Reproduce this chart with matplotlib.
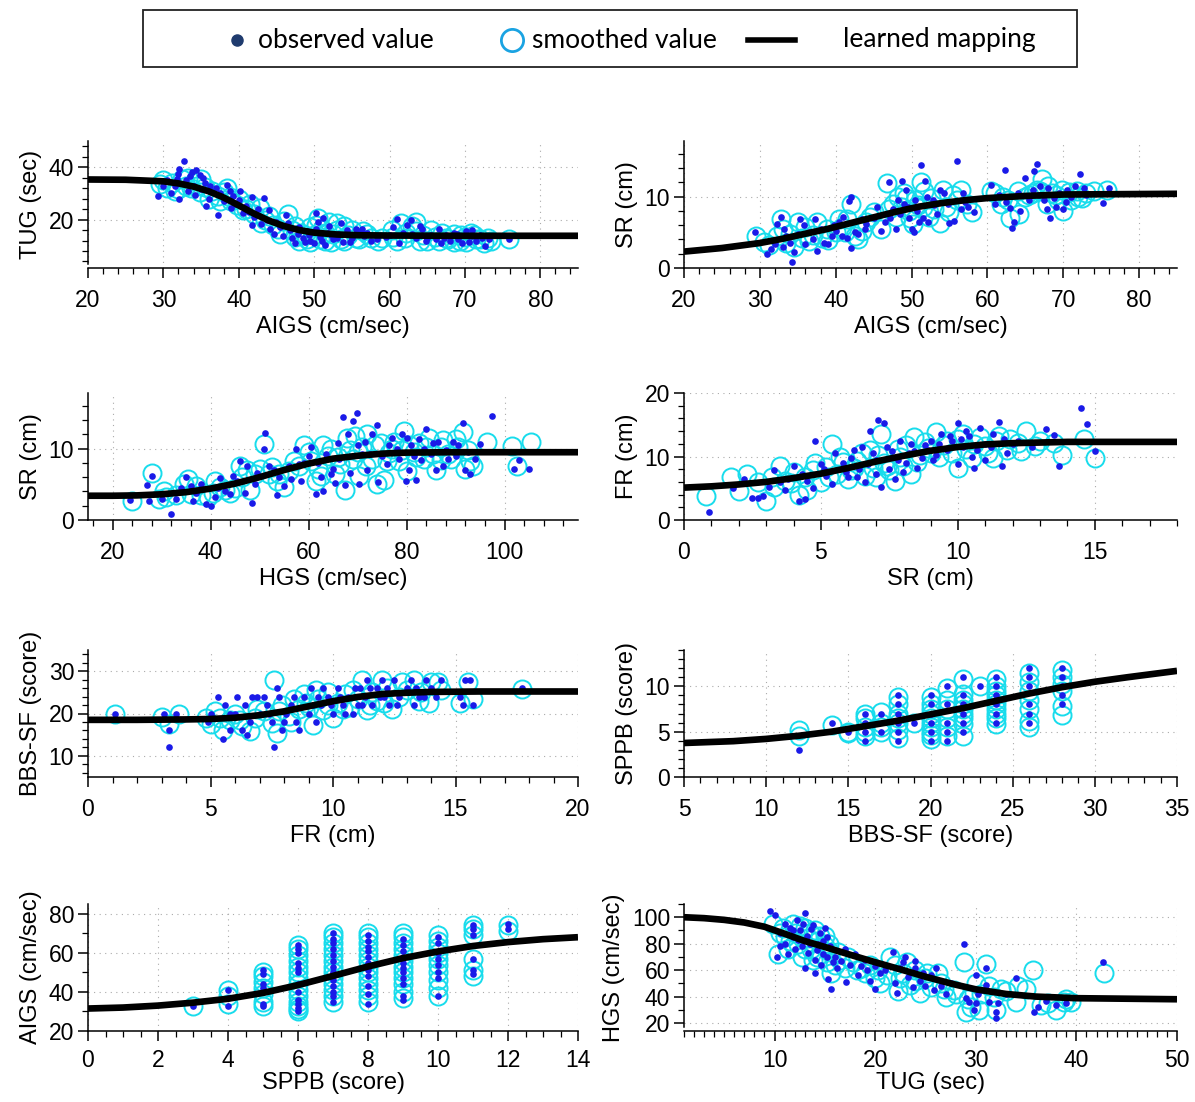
import numpy as np
import matplotlib.pyplot as plt
from matplotlib.lines import Line2D
from matplotlib.patches import Rectangle
from matplotlib.ticker import MultipleLocator

plt.rcParams['font.family'] = ['Liberation Sans', 'DejaVu Sans']

# ---- panel 1: TUG vs AIGS ----
p1_obs = [(29.3, 29), (30.5, 35), (31, 30), (31.5, 33), (32, 37.5), (32.1, 27.8), (32.1, 39.4), (32.7, 42.5),
          (33, 35), (33.2, 31), (33.5, 36.5), (34, 33), (34.3, 39), (34.2, 29.4), (34.8, 37), (35, 31.5),
          (35.5, 34), (35.7, 25), (36, 28), (36.5, 30.5), (37.3, 21.9), (37.5, 30), (38, 27), (38.4, 33.1),
          (38.8, 31), (39, 24.4), (39.5, 26), (40.2, 30.9), (40.5, 22.5), (41, 25), (41.7, 28.8), (41.7, 18.1),
          (42, 21), (42.5, 24), (43.3, 28.1), (43, 18.4), (43.8, 20), (44.2, 16.5), (44.7, 14.4), (45.5, 17),
          (46.2, 21.9), (45.9, 13.8), (46.8, 16), (47.4, 11.2), (47.8, 14.5), (48.5, 13), (49, 15.5), (49.5, 12),
          (50.2, 22.5), (50.2, 16.3), (50.5, 19), (50.8, 13.5), (51.2, 20.5), (51.5, 10.3), (51.8, 15), (52, 17.5),
          (52.5, 12.5), (53.2, 14.5), (53.6, 18.7), (53.8, 11.5), (54.3, 16), (55, 13), (55.8, 14.8), (56.4, 16.3),
          (56.6, 13.8), (57.5, 12), (58.4, 12.5), (59.5, 13.5), (60.5, 17), (61, 20.3), (61.3, 11.2), (61.8, 15),
          (62.3, 18), (62.8, 20), (63.5, 13), (64, 17.5), (64.3, 16.3), (64.8, 11.9), (65.5, 14), (66.2, 12.5),
          (66.6, 16.3), (66.8, 11.2), (67.5, 14), (68, 12), (68.5, 15), (69.1, 12.5), (69.6, 11), (70.2, 15.6),
          (70.9, 13.7), (71.5, 12), (72, 14), (72.7, 10), (73.2, 12.5), (75.8, 12.5),
          (30, 33), (31.8, 35.5), (33.8, 38), (35.2, 36), (36.2, 33), (37, 32), (39.2, 29), (40, 27.5), (41.3, 23),
          (44, 23.5), (45, 19), (46.5, 18.5), (47, 13), (48, 17), (48.8, 11.5), (49.3, 14), (50, 11), (51, 12),
          (52.2, 14), (53, 13), (54.8, 11.5), (55.5, 16.5), (57, 15), (60, 14), (63, 14.5), (65, 13), (67.2, 13),
          (69, 14.5), (70.5, 11.5), (71, 16), (72.3, 13)]
p1_sm = [(29.5, 33.5), (30.5, 32), (31.2, 34), (32, 31.5), (32.5, 35.5), (33, 33), (33.7, 32), (34.2, 34.8),
         (34.8, 30.5), (35.5, 32.5), (36, 28), (36.5, 31), (37.2, 29), (38, 30.5), (38.5, 32), (39, 27),
         (39.8, 25.5), (40.5, 23.5), (41.5, 26), (42, 22), (42.8, 24.5), (43.5, 20), (44, 21.5), (45.2, 16.5),
         (45.5, 14.5), (46.5, 22), (47, 16), (47.5, 13.5), (48.3, 15), (49, 12.5), (49.5, 17), (50, 14),
         (50.5, 20.5), (51, 16.5), (51.5, 12), (52, 19), (52.5, 14.5), (53, 16), (53.5, 12.5), (54, 17.5),
         (54.5, 14), (55.5, 13), (56.5, 15.5), (57.5, 13), (58.5, 12), (60.3, 16), (61, 12), (61.5, 18.5),
         (62.2, 15), (63, 17.5), (63.5, 19), (64.5, 14), (65, 12), (66, 13.5), (67, 15), (67.8, 12.5),
         (68.5, 14.5), (69.3, 12), (70, 13.5), (70.8, 15), (71.5, 12.5), (72.5, 11), (73, 13), (75.8, 12.5),
         (30, 35), (31.5, 31), (33.2, 36), (34.5, 33), (35, 35.5), (37.5, 27), (38.8, 28.5), (40, 28), (41, 24),
         (43, 18.5), (44.5, 18), (46, 19.5), (47.5, 17.5), (48, 12), (48.8, 14), (49.5, 11.5), (50.2, 18),
         (50.8, 12.5), (51.5, 15), (52.3, 11.5), (53, 18.5), (54, 12), (55, 16), (56, 12.5), (57, 14.5), (59, 13),
         (60.5, 13.5), (62, 13), (63.5, 15.5), (64, 12), (65.5, 16), (66.5, 12), (67.5, 13), (68.5, 11.5),
         (69.5, 14), (70.2, 11.5), (71.2, 14), (72, 12.5), (73.5, 12)]
p1_fit_x = [20, 25, 30, 32, 34, 36, 38, 40, 42, 44, 46, 48, 50, 53, 56, 60, 70, 85]
p1_fit_y = [35.3, 35.2, 34.6, 33.8, 32.6, 30.8, 28.4, 25.4, 22.3, 19.6, 17.5, 16.0, 15.0, 14.3, 14.0, 13.9, 13.8, 13.8]

# ---- panel 2: SR vs AIGS ----
p2_obs = [(29.3, 5), (31, 2), (31.5, 2.6), (32, 3.3), (32.3, 6.2), (32.8, 7.2), (33, 2.9), (33.5, 4.5), (34, 3.5),
          (34.2, 0.8), (34.5, 2.2), (35, 4.8), (35.3, 6.9), (35.8, 6), (36, 3.4), (37, 4), (37.3, 6.8), (37.5, 2.4),
          (38, 5.5), (38.5, 3.5), (39, 3.3), (39.5, 4.5), (40, 5.2), (40.5, 6.5), (41, 7.2), (41.5, 4.2), (41.8, 9.4),
          (42, 10), (42, 2.8), (42.5, 5), (43, 4.7), (43.5, 6.8), (44, 6.2), (45, 7), (46, 5.2), (46.5, 6.5),
          (47, 12), (47.5, 8.3), (48, 5.4), (48.2, 9.5), (48.8, 12.2), (49, 9), (49.3, 11), (49.7, 7), (50, 5.5),
          (50.3, 5), (50.7, 8), (51.2, 14.5), (51.5, 7), (51.8, 12.2), (52.2, 6.5), (52.8, 9.5), (53.3, 7.5),
          (53.8, 11), (54.3, 10.5), (55, 6.3), (55.6, 6.6), (56, 15), (56.5, 8.2), (56.8, 10.5), (57.5, 8.5),
          (58.3, 7.8), (60.5, 11.7), (61.5, 10.2), (62.3, 13.8), (62.5, 9.3), (63, 8.4), (63.2, 5.6), (63.5, 6.5),
          (64.3, 8), (65, 12.6), (66, 11), (66.5, 14.6), (66.2, 13.6), (67, 11.5), (67.5, 9.5), (67.8, 8.2),
          (68.2, 7), (68.8, 9.8), (69.5, 10.5), (70, 8.2), (70.5, 11), (71, 10), (72.2, 13.2), (72.8, 11.2),
          (73, 10.2), (75.2, 9.1), (76, 11.2),
          (33.2, 5.5), (36.5, 5), (39.8, 6), (40.8, 4.5), (43.8, 5.5), (45.5, 8.5), (47.2, 7), (48.5, 7.5),
          (49.5, 8.5), (50.5, 9.5), (51, 6.5), (52, 10), (53, 8.8), (54.8, 9), (57, 9.2), (61, 9), (64, 10.5),
          (65.5, 9.5), (66.8, 10.2), (68, 11.2), (69, 8.5), (70.3, 9.3), (71.5, 11.5)]
p2_sm = [(29.5, 4.5), (31.2, 3.2), (32.3, 4.5), (32.8, 6.8), (33.5, 3.5), (34.5, 3), (35, 6.5), (35.5, 4.2),
         (36.5, 3.8), (37.5, 6.5), (38.2, 4.2), (39, 3.9), (40, 5), (40.8, 5.8), (41.5, 6.8), (42, 9), (42.5, 4.5),
         (43, 4), (44, 6.5), (45, 7.8), (46, 5.5), (46.8, 11.9), (47.5, 9), (48.2, 10), (48.8, 8.5), (49.3, 9.8),
         (49.8, 7), (50.2, 6.2), (50.8, 8.8), (51.2, 12), (51.7, 10.8), (52.3, 7.2), (53, 8.2), (53.8, 6.3),
         (54.2, 11), (55, 7.8), (56, 9.5), (56.5, 11), (58, 7.8), (61, 10.5), (62, 10), (62.7, 9.5), (63, 7),
         (64.2, 7.6), (65.5, 10.2), (66.5, 11), (67.2, 12.5), (67.8, 9), (68.5, 10.5), (69.3, 9.6), (70, 8),
         (70.8, 10.6), (72, 10), (73, 10.5), (75.8, 11),
         (30.5, 3.6), (33, 5.5), (34, 4.8), (36, 5.8), (37, 4.6), (38.8, 5.4), (40.5, 6.8), (41.2, 5), (43.5, 5.2),
         (44.5, 7.2), (47, 8.2), (48, 7.2), (49, 10.5), (49.6, 8), (50.5, 9.5), (51.5, 8.5), (52.5, 9.8),
         (54.5, 8.5), (55.5, 10.3), (57.3, 9), (60.5, 10.8), (61.8, 9), (64, 10.8), (65, 10), (66, 10.5),
         (67, 10.8), (68, 11.5), (69, 10.2), (69.8, 11), (71, 9.5), (71.8, 10.8), (72.5, 9.8), (74, 10.8)]
p2_fit_x = [20, 25, 30, 33, 36, 39, 42, 45, 48, 51, 54, 57, 60, 65, 70, 85]
p2_fit_y = [2.3, 2.8, 3.5, 4.1, 4.8, 5.5, 6.3, 7.1, 7.9, 8.6, 9.1, 9.5, 9.8, 10.1, 10.3, 10.4]

# ---- panel 3: SR vs HGS ----
p3_obs = [(23.5, 2.8), (27, 4.9), (27.5, 2.6), (28, 6.2), (30, 3), (32, 0.9), (33, 3), (34, 4.5), (35, 6),
          (36.5, 2.6), (37, 3.8), (38, 5), (39, 2.3), (40, 2), (41, 3.2), (42, 5.9), (43, 4), (44, 3.6),
          (45.5, 5.5), (46, 8.2), (47, 3.8), (47.5, 7.5), (48.5, 2.4), (49.5, 6.6), (51, 10), (51.2, 12.2),
          (52, 7.5), (53.5, 3.5), (54, 6), (55, 4.8), (56, 7.5), (57.5, 9.9), (58.5, 5.5), (59, 8), (60.5, 10.2),
          (61.5, 3.6), (62.5, 6), (63, 4.1), (63.5, 9.2), (65, 7.2), (65.5, 5.2), (66.3, 8.5), (67, 14.5),
          (67.5, 4.9), (68, 12), (68.5, 6.6), (69, 13.9), (69.8, 15), (70.3, 5.1), (71, 9.2), (71.5, 11), (72, 7),
          (73, 12), (74, 13.3), (74.2, 5.3), (75, 9), (76, 7.8), (77, 11.5), (78, 10), (79, 12), (79.8, 5.4),
          (80.5, 7), (81, 10.5), (82, 5.6), (82.5, 11.3), (83, 8.4), (84, 12.7), (85, 9.3), (86, 7), (86.5, 11),
          (87.5, 7.5), (88.5, 8.6), (89.5, 11), (90.5, 10.5), (91.5, 13.6), (92, 7), (93, 6.5), (94, 8.5),
          (95, 10.7), (97.5, 14.6), (102, 7.2), (103, 8.4), (105, 7.1),
          (36, 4.8), (41.5, 4.5), (44.5, 6.2), (49, 5), (53, 7), (56.5, 5.8), (58, 7.8), (60, 9), (62, 8),
          (64.5, 6.5), (66, 10.8), (70, 10.5), (72.5, 9.2), (76.5, 10.5), (78.5, 8.6), (80, 11.5), (81.5, 9),
          (83.5, 10), (85.5, 10.8), (88, 9.8), (90, 9), (92.5, 9.5)]
p3_sm = [(24, 2.7), (28, 6.6), (29.5, 3), (31, 3.2), (33, 3.5), (34.5, 5), (35.5, 5.8), (37, 4.8), (38, 3.5),
         (39.5, 3.2), (40.5, 3.8), (42, 4.6), (44, 3.8), (45, 4.5), (46, 7.5), (47.5, 7), (48, 4.2), (50, 7.2),
         (51, 10.6), (52.5, 7.4), (54, 6.5), (55, 4.6), (56, 6.8), (57, 8.2), (59, 10.5), (60, 9.5), (61.5, 5.5),
         (62.5, 6.2), (63, 10.5), (64, 9), (65.5, 6.4), (66.5, 7.8), (67.5, 4.2), (67.8, 11.5), (68.5, 9.8),
         (69.5, 11.8), (70.3, 6.2), (71, 10.2), (72, 12), (73, 8.6), (74, 5), (74.8, 10.8), (75.5, 5.6),
         (76.5, 9.4), (77.5, 11), (78.5, 8.2), (79.5, 12.5), (80, 6.8), (81.5, 9.6), (82.5, 10.8), (83.5, 8.5),
         (84.5, 11.5), (86, 7), (87, 8.4), (87.5, 11.2), (88.5, 9.3), (90, 11.3), (91.5, 12.4), (92, 7.2),
         (93, 8.2), (96.5, 11), (101.5, 10.4), (102.5, 7.6), (105.5, 10.9),
         (30.5, 4), (36, 3.6), (41, 5.5), (43, 4.2), (46.5, 6), (49, 6.5), (52, 6.5), (53.5, 5.5), (58, 7.5),
         (60.5, 8.2), (62, 7.2), (64.5, 10), (66, 8.8), (69, 8.5), (70, 9.5), (71.8, 7.5), (73.5, 10.5), (76, 8.2),
         (77, 10), (79, 9.8), (80.5, 10.5), (82, 8.8), (84, 10.2), (85.5, 9.3), (87, 10.2), (89, 8.6),
         (90.5, 10.2), (92.5, 9.8), (93.5, 7.5)]
p3_fit_x = [15, 20, 25, 30, 35, 40, 45, 50, 55, 60, 65, 70, 75, 80, 90, 115]
p3_fit_y = [3.4, 3.4, 3.45, 3.6, 3.9, 4.4, 5.1, 6.0, 7.0, 7.9, 8.6, 9.0, 9.3, 9.45, 9.5, 9.5]

# ---- panel 4: FR vs SR ----
p4_obs = [(0.9, 1.2), (1.8, 5), (2.2, 6.5), (2.5, 3.4), (2.7, 3.5), (2.9, 3.8), (3.1, 5.2), (3.3, 7.8), (3.5, 6),
          (3.7, 4.8), (4, 8.5), (4.2, 3), (4.4, 3.3), (4.5, 6.2), (4.7, 5), (4.8, 12.5), (5, 8.8), (5.2, 7),
          (5.4, 5.6), (5.5, 10.5), (5.8, 9), (6, 6.8), (6.2, 11), (6.4, 8), (6.5, 11.5), (6.6, 6), (6.8, 14),
          (7, 9.5), (7, 7.2), (7.1, 15.7), (7.2, 5.2), (7.3, 15.3), (7.4, 11.5), (7.5, 8), (7.7, 6.5), (7.8, 9.5),
          (8, 7.5), (8.2, 10.5), (8.3, 12), (8.5, 8.2), (8.7, 9.8), (8.8, 11.8), (9, 12.5), (9.2, 10.2),
          (9.4, 13.5), (9.6, 11), (9.8, 12.5), (10, 15.2), (10, 8.8), (10.2, 11.5), (10.3, 14), (10.5, 10),
          (10.6, 8.2), (10.8, 14.5), (11, 12), (11, 9.5), (11.3, 13.5), (11.5, 15.5), (11.6, 8.5), (11.8, 10.5),
          (12, 12), (12.7, 11.5), (13.2, 14.4), (13.5, 13.4), (13.7, 8.5), (14.5, 17.7), (14.7, 15.1), (15, 10.8),
          (3.8, 6.5), (4.3, 7.2), (5.1, 8.1), (5.9, 7.5), (6.1, 9.8), (6.3, 6.8), (6.7, 8.8), (6.9, 10.5),
          (7.6, 10.8), (7.9, 12.5), (8.1, 9), (8.4, 10.8), (8.9, 11), (9.1, 9.5), (9.3, 12), (9.7, 13.2),
          (10.1, 12.8), (10.4, 13.2), (10.7, 11), (11.2, 11.5), (11.7, 12.8), (12.2, 12.5)]
p4_sm = [(0.8, 3.8), (1.7, 6.7), (2, 4.5), (2.3, 7.2), (2.7, 6), (3, 3), (3.3, 5.2), (3.5, 8.5), (3.7, 6.2),
         (4, 7.5), (4.2, 4), (4.5, 4.8), (4.7, 7.8), (4.8, 9), (5, 6), (5.2, 8.3), (5.4, 12), (5.6, 7.3),
         (5.8, 9.2), (6, 6.5), (6.2, 8.2), (6.5, 10.5), (6.6, 7), (6.8, 11), (7, 6.8), (7.2, 13.5), (7.3, 9),
         (7.5, 7.8), (7.7, 6.2), (7.8, 11.2), (8, 8.5), (8.3, 7.2), (8.4, 13), (8.6, 10.2), (8.8, 12.3),
         (9, 10.5), (9.2, 13.8), (9.5, 11.8), (9.8, 10.5), (10, 8.2), (10, 12.8), (10.3, 11.2), (10.5, 9.8),
         (10.8, 13), (11, 11.7), (11.3, 9.8), (11.5, 13.2), (11.8, 11), (12.2, 12.2), (12.5, 14), (12.8, 11.7),
         (13.5, 12.2), (13.8, 10.2), (14.6, 12.8), (15, 9.8),
         (3.2, 6.8), (3.9, 5.8), (4.4, 6.8), (5.3, 6.8), (5.7, 10), (6.1, 7.8), (6.3, 9.3), (6.9, 8.2),
         (7.1, 10.2), (7.4, 8.5), (7.9, 10), (8.1, 11.8), (8.5, 9.2), (8.9, 11.3), (9.3, 10), (9.6, 12.5),
         (10.2, 13.5), (10.6, 12), (11.1, 10.5), (11.4, 12.4), (11.9, 12.8), (12.3, 10.8), (13, 12.5)]
p4_fit_x = [0, 1, 2, 3, 4, 5, 6, 7, 8, 9, 10, 11, 12, 14, 18]
p4_fit_y = [5.1, 5.3, 5.6, 6.0, 6.6, 7.3, 8.2, 9.2, 10.1, 10.9, 11.5, 11.9, 12.1, 12.3, 12.3]

# ---- panel 5: BBS-SF vs FR ----
p5_obs = [(1.1, 20), (3.1, 20), (3.3, 16), (3.3, 12), (3.6, 20), (4.9, 18), (5, 20), (5.1, 19), (5.3, 24),
          (5.5, 14), (5.6, 22), (5.8, 16), (6, 20), (6.1, 24), (6.3, 16), (6.5, 15), (6.6, 18), (6.7, 24),
          (6.9, 24), (7, 20), (7.3, 22), (7.5, 18), (7.6, 12), (7.7, 26), (7.8, 24), (7.9, 16), (8.1, 20),
          (8.3, 22), (8.5, 18), (8.6, 16), (8.8, 24), (9, 20), (9.1, 26), (9.3, 18), (9.5, 22), (9.6, 26),
          (9.8, 24), (10, 20), (10.2, 26), (10.4, 22), (10.6, 24), (10.8, 20), (11, 22), (11.1, 26), (11.3, 24),
          (11.4, 28), (11.6, 22), (11.8, 26), (12, 28), (12.1, 24), (12.3, 22), (12.5, 28), (12.7, 24), (13, 26),
          (13.2, 28), (13.3, 22), (13.5, 24), (13.8, 28), (14, 26), (14.2, 24), (14.4, 28), (15.2, 24),
          (15.3, 22), (15.4, 28), (15.6, 28), (15.7, 22), (17.7, 26),
          (5.8, 20), (6.4, 22), (7.2, 24), (7.4, 20), (8, 18), (8.4, 24), (9.2, 22), (9.4, 24), (9.9, 22),
          (10.3, 24), (10.5, 20), (10.9, 26), (11.2, 22), (11.5, 26), (11.9, 24), (12.2, 26), (12.6, 22),
          (13.4, 26), (13.7, 24)]
p5_sm = [(1.1, 19.8), (3, 19.2), (3.3, 17.5), (3.7, 19.8), (4.8, 19), (5, 17.5), (5.2, 20.5), (5.5, 16.2),
         (5.8, 18.5), (6, 20), (6.3, 17), (6.6, 15.8), (6.8, 19), (7.2, 20.5), (7.5, 17.8), (7.6, 27.8),
         (7.7, 15.5), (7.9, 22), (8.2, 19.5), (8.4, 23.5), (8.6, 21), (8.8, 24.5), (9, 21.5), (9.2, 17.2),
         (9.4, 23.5), (9.6, 20.8), (9.8, 25), (10, 19), (10.2, 22.5), (10.5, 24.5), (10.7, 21.5), (11, 23.5),
         (11.2, 27.8), (11.4, 20.8), (11.6, 25), (11.8, 23), (12, 28), (12.2, 26), (12.4, 21), (12.7, 24),
         (13, 25.5), (13.3, 27.8), (13.5, 23), (13.9, 22.5), (14, 27.5), (14.4, 25.5), (15.2, 22.5),
         (15.5, 27.5), (15.7, 23.5), (17.7, 25.8),
         (5.4, 19), (6.2, 18.5), (6.9, 21), (7.8, 20.5), (8.3, 18), (8.9, 22.5), (9.3, 25.5), (9.8, 22),
         (10.4, 21), (10.8, 25.5), (11.5, 22), (12.1, 22.5), (12.8, 27.5), (13.6, 25), (14.3, 27.5)]
p5_fit_x = [0, 2, 4, 5, 6, 7, 8, 9, 10, 11, 12, 13, 14, 16, 20]
p5_fit_y = [18.5, 18.5, 18.6, 18.7, 19.0, 19.6, 20.5, 21.7, 22.9, 23.9, 24.6, 24.9, 25.1, 25.2, 25.2]

# ---- panel 6: SPPB vs BBS-SF (scores, grouped by x) ----
p6_obs = {12: [3], 14: [6], 15: [5], 16: [4, 5, 6, 7], 17: [5, 7], 18: [4, 5, 6, 7, 8, 9], 19: [6],
          20: [4, 5, 6, 7, 8, 9], 21: [4, 5, 6, 8, 10], 22: [5, 6, 7, 8, 9, 11], 23: [10],
          24: [6, 7, 8, 9, 10, 11], 26: [6, 7, 8, 10, 11, 12], 28: [8, 9, 10, 11, 12]}
p6_sm = {12: [5.2, 4.5], 14: [5.7], 15: [5, 4.8], 16: [4.5, 5.5, 6.5, 7, 5], 17: [5, 6, 7.2, 5.5],
         18: [4.3, 5.2, 6, 7, 8, 8.8, 6.5], 19: [6], 20: [4.2, 5, 5.5, 6, 6.5, 7, 7.5, 8, 8.8, 4.6],
         21: [4.5, 5.5, 6.5, 7.5, 8.5, 9.8], 22: [4.5, 5.8, 6.5, 7, 7.5, 8, 8.5, 9.2, 10.8], 23: [10],
         24: [5.8, 6.5, 7, 7.5, 8, 8.5, 9, 9.5, 10, 10.8], 26: [5.5, 6.2, 7.5, 8.5, 9.5, 10.5, 11.5],
         28: [6.8, 7.8, 9.5, 10.3, 11, 11.8]}
p6_fit_x = [5, 8, 10, 12, 14, 16, 18, 20, 22, 24, 26, 28, 30, 32, 35]
p6_fit_y = [3.75, 3.95, 4.2, 4.55, 5.0, 5.6, 6.2, 6.9, 7.6, 8.4, 9.2, 9.9, 10.5, 11.0, 11.7]

# ---- panel 7: AIGS vs SPPB ----
p7_obs = {3: [33], 4: [33, 37, 41], 5: [33, 34, 40, 42, 44, 49, 51],
          6: [30, 32, 34, 36, 40, 44, 50, 52, 55, 60, 62, 64],
          7: [35, 38, 40, 43, 46, 48, 50, 53, 56, 59, 62, 65, 67, 70],
          8: [34, 39, 43, 48, 51, 55, 58, 61, 63, 66, 69], 9: [36, 38, 44, 47, 50, 52, 55, 58, 61, 64, 67],
          10: [38, 47, 50, 54, 57, 60, 65, 68], 11: [49, 51, 57, 69, 72, 74], 12: [72, 75]}
p7_sm = {3: [33], 4: [34, 38, 41], 5: [33, 35, 39, 42, 45, 48, 50],
         6: [30, 31.5, 33, 35, 38, 41, 44, 47, 50, 53, 56, 59, 62, 64],
         7: [35, 38, 41, 44, 47, 50, 53, 56, 59, 62, 65, 68, 70],
         8: [35, 38, 41, 44, 47, 50, 53, 56, 59, 62, 65, 68, 70],
         9: [37, 40, 44, 47, 50, 53, 56, 59, 62, 65, 68, 70],
         10: [38, 42, 46, 50, 54, 57, 60, 63, 66, 69], 11: [48, 51, 57, 69, 72, 74], 12: [71, 74]}
p7_fit_x = [0, 1, 2, 3, 4, 5, 6, 7, 8, 9, 10, 11, 12, 13, 14]
p7_fit_y = [31.5, 32, 33, 34.5, 36.5, 39.5, 43.5, 48.2, 53, 57.3, 60.7, 63.5, 65.5, 67, 68]

# ---- panel 8: HGS vs TUG ----
p8_obs = [(9.5, 105), (10, 102), (10.2, 70), (10.5, 88), (11, 95), (11, 80), (11.3, 72), (11.5, 92), (11.8, 85),
          (12, 76), (12.2, 98), (12.5, 90), (12.7, 78), (13, 103), (13, 62), (13.2, 86), (13.5, 80), (13.8, 94),
          (14, 68), (14, 58), (14.2, 75), (14.5, 88), (14.6, 64), (14.8, 82), (15, 92), (15.2, 70), (15.3, 53),
          (15.5, 78), (15.6, 46), (15.8, 66), (16.2, 62), (17, 76), (17.1, 51), (17.5, 64), (18, 72), (18.3, 56),
          (19, 68), (19.2, 60), (19.5, 52), (20, 63), (20, 46), (20.5, 58), (21.8, 74), (22, 50), (22.2, 43),
          (22.5, 62), (23, 70), (23.3, 55), (23.8, 47), (24, 67), (24, 62), (24.5, 52), (25, 48), (25.5, 56),
          (26, 62), (26.5, 48), (27, 42), (28.8, 80), (29, 39), (29.3, 36), (29.8, 30), (30, 56), (30, 35),
          (30.5, 45), (31, 62), (31, 49), (31.3, 36), (32, 28), (32, 24), (32.2, 35), (34, 54), (35.8, 28),
          (36.2, 32), (38, 34), (39, 35), (42.6, 66),
          (10.5, 78), (11.8, 90), (12.3, 83), (12.8, 95), (13.3, 73), (13.6, 91), (14.3, 80), (14.8, 72),
          (15.2, 85), (16, 70), (16.6, 67), (18.6, 63), (21, 60), (22.8, 66), (24.8, 58), (25.8, 45), (27.5, 50),
          (30.2, 42), (33, 42), (37, 37)]
p8_sm = [(9.8, 95), (10.3, 72), (10.8, 92), (11, 85), (11.3, 76), (11.8, 95), (12, 88), (12.3, 80), (12.7, 70),
         (13, 92), (13.3, 84), (13.6, 76), (13.8, 68), (14, 90), (14.3, 82), (14.6, 72), (15, 86), (15.2, 66),
         (15.4, 80), (15.6, 58), (16, 64), (16.3, 74), (17, 62), (17.8, 66), (18.2, 60), (19, 58), (19.5, 64),
         (20, 54), (20.5, 50), (21.5, 70), (22, 64), (22.3, 44), (22.8, 58), (23.2, 66), (23.5, 49), (24, 60),
         (24.5, 43), (25, 54), (25.5, 47), (26.2, 58), (26.5, 50), (27, 40), (28, 42), (28.8, 66), (29, 28),
         (29.5, 32), (30, 50), (30.5, 42), (31, 65), (31.3, 48), (32, 30), (32.5, 46), (34, 36), (34.2, 48),
         (35.7, 60), (36.5, 34), (38, 30), (38.8, 36), (39, 38), (42.7, 58),
         (10.5, 88), (11.5, 82), (12.5, 93), (13, 76), (13.5, 88), (14.2, 70), (14.5, 86), (15, 78), (15.5, 74),
         (16.5, 68), (17.3, 70), (18.7, 62), (20.3, 60), (21.2, 56), (22.5, 54), (24, 52), (25.2, 58), (26.8, 46),
         (27.8, 45), (29.2, 38), (30.3, 30), (31.8, 40), (33, 44), (35, 46), (37.2, 35), (39.5, 36)]
p8_fit_x = [1, 3, 5, 7, 9, 11, 13, 15, 18, 20, 23, 25, 28, 30, 33, 36, 40, 50]
p8_fit_y = [100, 99.3, 98, 96, 92.8, 87.5, 82, 77.5, 70.5, 66, 59.5, 55, 49, 45.5, 42, 40, 38.8, 38]


def pairs(pts):
    if isinstance(pts, dict):
        xs = [k for k, v in pts.items() for _ in v]
        ys = [y for v in pts.values() for y in v]
        return xs, ys
    return [p[0] for p in pts], [p[1] for p in pts]


# (obs, smooth, fit_x, fit_y, xlabel, ylabel, xlim, ylim, xmajor, xminor, ymajor, yminor, yspine_low)
panels = [
    (p1_obs, p1_sm, p1_fit_x, p1_fit_y, 'AIGS (cm/sec)', 'TUG (sec)', (20, 85), (1.5, 50), 10, 2, 20, 4, 3),
    (p2_obs, p2_sm, p2_fit_x, p2_fit_y, 'AIGS (cm/sec)', 'SR (cm)', (20, 85), (0, 17.8), 10, 2, 10, 2, 0),
    (p3_obs, p3_sm, p3_fit_x, p3_fit_y, 'HGS (cm/sec)', 'SR (cm)', (15, 115), (0, 17.8), 20, 4, 10, 2, 0),
    (p4_obs, p4_sm, p4_fit_x, p4_fit_y, 'SR (cm)', 'FR (cm)', (0, 18), (0, 20), 5, 1, 10, 2, 0),
    (p5_obs, p5_sm, p5_fit_x, p5_fit_y, 'FR (cm)', 'BBS-SF (score)', (0, 20), (5, 35), 5, 1, 10, 2, 5),
    (p6_obs, p6_sm, p6_fit_x, p6_fit_y, 'BBS-SF (score)', 'SPPB (score)', (5, 35), (0, 14), 5, 1, 5, 1, 0),
    (p7_obs, p7_sm, p7_fit_x, p7_fit_y, 'SPPB (score)', 'AIGS (cm/sec)', (0, 14), (20, 85), 2, 0.5, 20, 10, 20),
    (p8_obs, p8_sm, p8_fit_x, p8_fit_y, 'TUG (sec)', 'HGS (cm/sec)', (1, 50), (14, 110), 10, 1, 20, 10, 17),
]

W, H = 1195, 1102
fig = plt.figure(figsize=(W / 100, H / 100), dpi=100)

col_x = [88, 684]
col_w = [490, 493]
row_bottom = [268, 520, 777, 1031]
ax_h = 127

obs_color = '#1a1ae8'
sm_color = '#18dcec'

for i, (obs, sm, fx, fy, xl, yl, xlim, ylim, xmaj, xmin, ymaj, ymin, ylow) in enumerate(panels):
    r, c = divmod(i, 2)
    rect = [col_x[c] / W, 1 - row_bottom[r] / H, col_w[c] / W, ax_h / H]
    ax = fig.add_axes(rect)
    ox, oy = pairs(obs)
    sx, sy = pairs(sm)
    ax.plot(sx, sy, 'o', ms=13, mfc='none', mec=sm_color, mew=1.4, zorder=2)
    ax.plot(ox, oy, 'o', ms=4.8, color=obs_color, mec='none', zorder=3)
    ax.plot(fx, fy, '-', color='black', lw=4.8, solid_capstyle='butt', zorder=4)
    ax.set_xlim(xlim)
    ax.set_ylim(ylim)
    ax.xaxis.set_major_locator(MultipleLocator(xmaj))
    ax.xaxis.set_minor_locator(MultipleLocator(xmin))
    ax.yaxis.set_major_locator(MultipleLocator(ymaj))
    ax.yaxis.set_minor_locator(MultipleLocator(ymin))
    ax.grid(True, which='major', ls=(0, (1, 4)), color='#aaaaaa', lw=0.8, zorder=0)
    for s in ['top', 'right']:
        ax.spines[s].set_visible(False)
    ax.spines['left'].set_bounds(ylow, ylim[1])
    ax.spines['left'].set_linewidth(1.1)
    ax.spines['bottom'].set_linewidth(1.1)
    ax.tick_params(which='major', direction='out', length=7, width=1.1, labelsize=16.5, pad=3)
    ax.tick_params(axis='x', which='major', pad=8 if r < 3 else 6)
    ax.tick_params(which='minor', direction='out', length=4, width=0.9)
    ax.set_xlabel(xl, fontsize=17, labelpad=3 if r < 3 else 0)
    ax.set_ylabel(yl, fontsize=17, labelpad=5)

# legend box drawn on a full-figure overlay in pixel coordinates
lax = fig.add_axes([0, 0, 1, 1], zorder=10)
lax.set_xlim(0, W)
lax.set_ylim(H, 0)
lax.axis('off')
lax.add_patch(Rectangle((143, 10), 934, 57, fill=False, ec='#222222', lw=1.3))
lax.add_line(Line2D([237], [40], marker='o', ms=8, color='#1f3b6e', ls='none'))
lax.add_line(Line2D([512], [40], marker='o', ms=16, mfc='none', mec='#1aa3e2', mew=2.0, ls='none'))
lax.add_line(Line2D([748, 795], [40, 40], color='black', lw=4))
legend_font = ['Lato', 'DejaVu Sans']
lax.text(258, 40, 'observed value', fontsize=19, va='center', family=legend_font)
lax.text(532, 40, 'smoothed value', fontsize=19, va='center', family=legend_font)
lax.text(843, 40, 'learned mapping', fontsize=19, va='center', family=legend_font)

fig.savefig('out.png', dpi=100)
